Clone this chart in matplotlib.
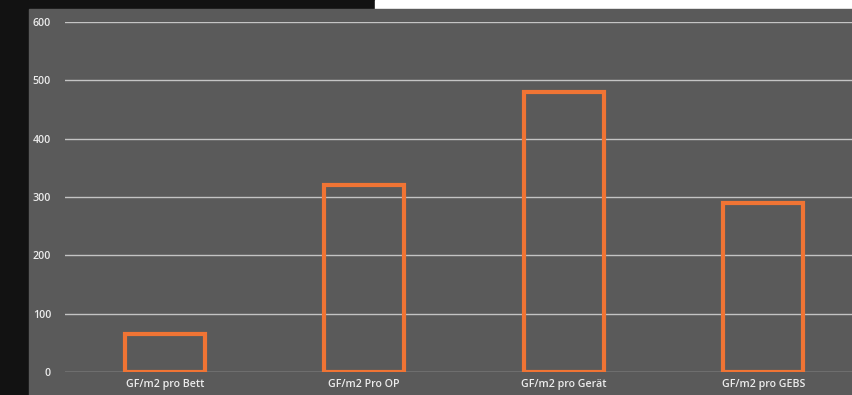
import matplotlib.pyplot as plt
import matplotlib.patches as patches

categories = ['GF/m2 pro Bett', 'GF/m2 Pro OP', 'GF/m2 pro Gerät', 'GF/m2 pro GEBS']
values = [65, 320, 480, 290]
yticks = [0, 100, 200, 300, 400, 500, 600]

W, H = 853, 395
fig = plt.figure(figsize=(W / 100, H / 100), dpi=100)
fig.patch.set_facecolor('#121212')

# white strip at top right and the grey panel behind the axes
fig.patches.append(patches.Rectangle((375 / W, (H - 9) / H), 1 - 375 / W, 9 / H,
                                     transform=fig.transFigure, color='white', zorder=-10))
fig.patches.append(patches.Rectangle((29 / W, 0), 1 - 29 / W, (H - 9) / H,
                                     transform=fig.transFigure, color='#5a5a5a', zorder=-10))

ax = fig.add_axes([65 / W, 23 / H, 1 - 65 / W, 350 / H])
ax.set_facecolor('none')

x = range(len(categories))
ax.bar(x, values, width=0.4, facecolor='none', edgecolor='#F07434', linewidth=3, zorder=3)

ax.set_ylim(0, 600)
ax.set_xlim(-0.5, -0.5 + 788 / 199.5)
ax.set_yticks(yticks)
ax.set_xticks(list(x))
ax.set_xticklabels(categories)
ax.yaxis.grid(True, color='#c4c4c4', linewidth=1.0, zorder=1)
ax.set_axisbelow(True)
for s in ax.spines.values():
    s.set_visible(False)
ax.tick_params(length=0, colors='#ececec', labelsize=7.7)
ax.tick_params(axis='y', pad=10)
ax.tick_params(axis='x', pad=5)
for lab in ax.get_xticklabels() + ax.get_yticklabels():
    lab.set_fontfamily('Open Sans')
    lab.set_fontweight('semibold')

fig.savefig('out.png', dpi=100, facecolor=fig.get_facecolor())
